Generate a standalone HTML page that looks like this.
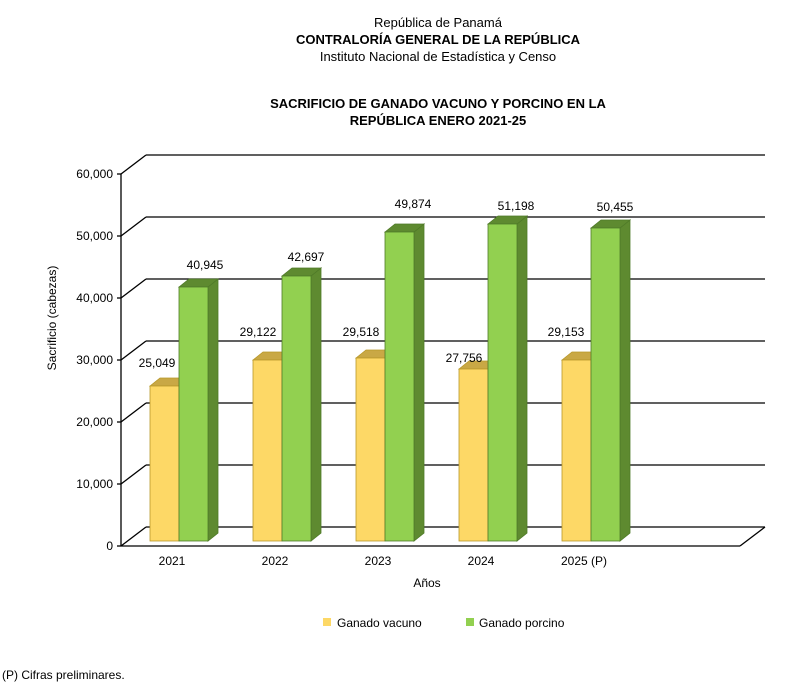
<!DOCTYPE html>
<html><head><meta charset="utf-8"><style>
body{margin:0;background:#fff;}
svg{display:block;font-family:"Liberation Sans",Arial,sans-serif;}
</style></head><body>
<svg width="787" height="696" viewBox="0 0 787 696">
<rect width="787" height="696" fill="#fff"/>
<g text-anchor="middle" fill="#000">
<text x="438" y="27" font-size="13">República de Panamá</text>
<text x="438" y="44" font-size="13" font-weight="bold">CONTRALORÍA GENERAL DE LA REPÚBLICA</text>
<text x="438" y="61" font-size="13">Instituto Nacional de Estadística y Censo</text>
<text x="438" y="108" font-size="13" font-weight="bold">SACRIFICIO DE GANADO VACUNO Y PORCINO EN LA</text>
<text x="438" y="125" font-size="13" font-weight="bold">REPÚBLICA ENERO 2021-25</text>
</g>
<g stroke="#000" stroke-width="1.3" fill="none">
<line x1="146" y1="155" x2="765" y2="155"/>
<line x1="146" y1="217" x2="765" y2="217"/>
<line x1="146" y1="279" x2="765" y2="279"/>
<line x1="146" y1="341" x2="765" y2="341"/>
<line x1="146" y1="403" x2="765" y2="403"/>
<line x1="146" y1="465" x2="765" y2="465"/>
<line x1="146" y1="527" x2="765" y2="527"/>
<line x1="121" y1="174" x2="146" y2="155"/>
<line x1="121" y1="236" x2="146" y2="217"/>
<line x1="121" y1="298" x2="146" y2="279"/>
<line x1="121" y1="360" x2="146" y2="341"/>
<line x1="121" y1="422" x2="146" y2="403"/>
<line x1="121" y1="484" x2="146" y2="465"/>
<line x1="121" y1="546" x2="146" y2="527"/>
<line x1="121" y1="174" x2="121" y2="546"/>
<line x1="121" y1="546" x2="740" y2="546"/>
<line x1="740" y1="546" x2="765" y2="527"/>
<line x1="117" y1="174" x2="121" y2="174"/><line x1="117" y1="236" x2="121" y2="236"/><line x1="117" y1="298" x2="121" y2="298"/><line x1="117" y1="360" x2="121" y2="360"/><line x1="117" y1="422" x2="121" y2="422"/><line x1="117" y1="484" x2="121" y2="484"/><line x1="117" y1="546" x2="121" y2="546"/>
</g>
<g font-size="12" text-anchor="end">
<text x="113" y="178">60,000</text><text x="113" y="240">50,000</text><text x="113" y="302">40,000</text><text x="113" y="364">30,000</text><text x="113" y="426">20,000</text><text x="113" y="488">10,000</text><text x="113" y="550">0</text>
</g>
<text transform="translate(56,318) rotate(-90)" font-size="12" text-anchor="middle">Sacrificio (cabezas)</text>

<g stroke-width="0.8">
<!-- yellow bars -->
<g fill="#c9a845" stroke="#b8982a">
<polygon points="150,386 160,378 189,378 179,386"/>
<polygon points="253,360 263,352 292,352 282,360"/>
<polygon points="356,358 366,350 395,350 385,358"/>
<polygon points="459,369 469,361 498,361 488,369"/>
<polygon points="562,360 572,352 601,352 591,360"/>
</g>
<g fill="#fdd866" stroke="#b8982a">
<rect x="150" y="386" width="29" height="155"/>
<rect x="253" y="360" width="29" height="181"/>
<rect x="356" y="358" width="29" height="183"/>
<rect x="459" y="369" width="29" height="172"/>
<rect x="562" y="360" width="29" height="181"/>
</g>
<!-- green bars -->
<g fill="#5e8a30" stroke="#4f7a28">
<polygon points="208,287 218,279 218,533 208,541"/>
<polygon points="179,287 189,279 218,279 208,287"/>
<polygon points="311,276 321,268 321,533 311,541"/>
<polygon points="282,276 292,268 321,268 311,276"/>
<polygon points="414,232 424,224 424,533 414,541"/>
<polygon points="385,232 395,224 424,224 414,232"/>
<polygon points="517,224 527,216 527,533 517,541"/>
<polygon points="488,224 498,216 527,216 517,224"/>
<polygon points="620,228 630,220 630,533 620,541"/>
<polygon points="591,228 601,220 630,220 620,228"/>
</g>
<g fill="#92d050" stroke="#4f7a28">
<rect x="179" y="287" width="29" height="254"/>
<rect x="282" y="276" width="29" height="265"/>
<rect x="385" y="232" width="29" height="309"/>
<rect x="488" y="224" width="29" height="317"/>
<rect x="591" y="228" width="29" height="313"/>
</g>
</g>

<g font-size="12" text-anchor="middle">
<text x="157" y="367">25,049</text><text x="205" y="269">40,945</text>
<text x="258" y="336">29,122</text><text x="306" y="261">42,697</text>
<text x="361" y="336">29,518</text><text x="413" y="208">49,874</text>
<text x="464" y="362">27,756</text><text x="516" y="210">51,198</text>
<text x="566" y="336">29,153</text><text x="615" y="211">50,455</text>
<text x="172" y="565">2021</text><text x="275" y="565">2022</text><text x="378" y="565">2023</text><text x="481" y="565">2024</text><text x="584" y="565">2025 (P)</text>
<text x="427" y="587">Años</text>
</g>
<rect x="323" y="618" width="8" height="8" fill="#fdd866"/>
<text x="337" y="627" font-size="12">Ganado vacuno</text>
<rect x="466" y="618" width="8" height="8" fill="#92d050"/>
<text x="479" y="627" font-size="12">Ganado porcino</text>
<text x="2" y="679" font-size="12">(P) Cifras preliminares.</text>
</svg>
</body></html>
